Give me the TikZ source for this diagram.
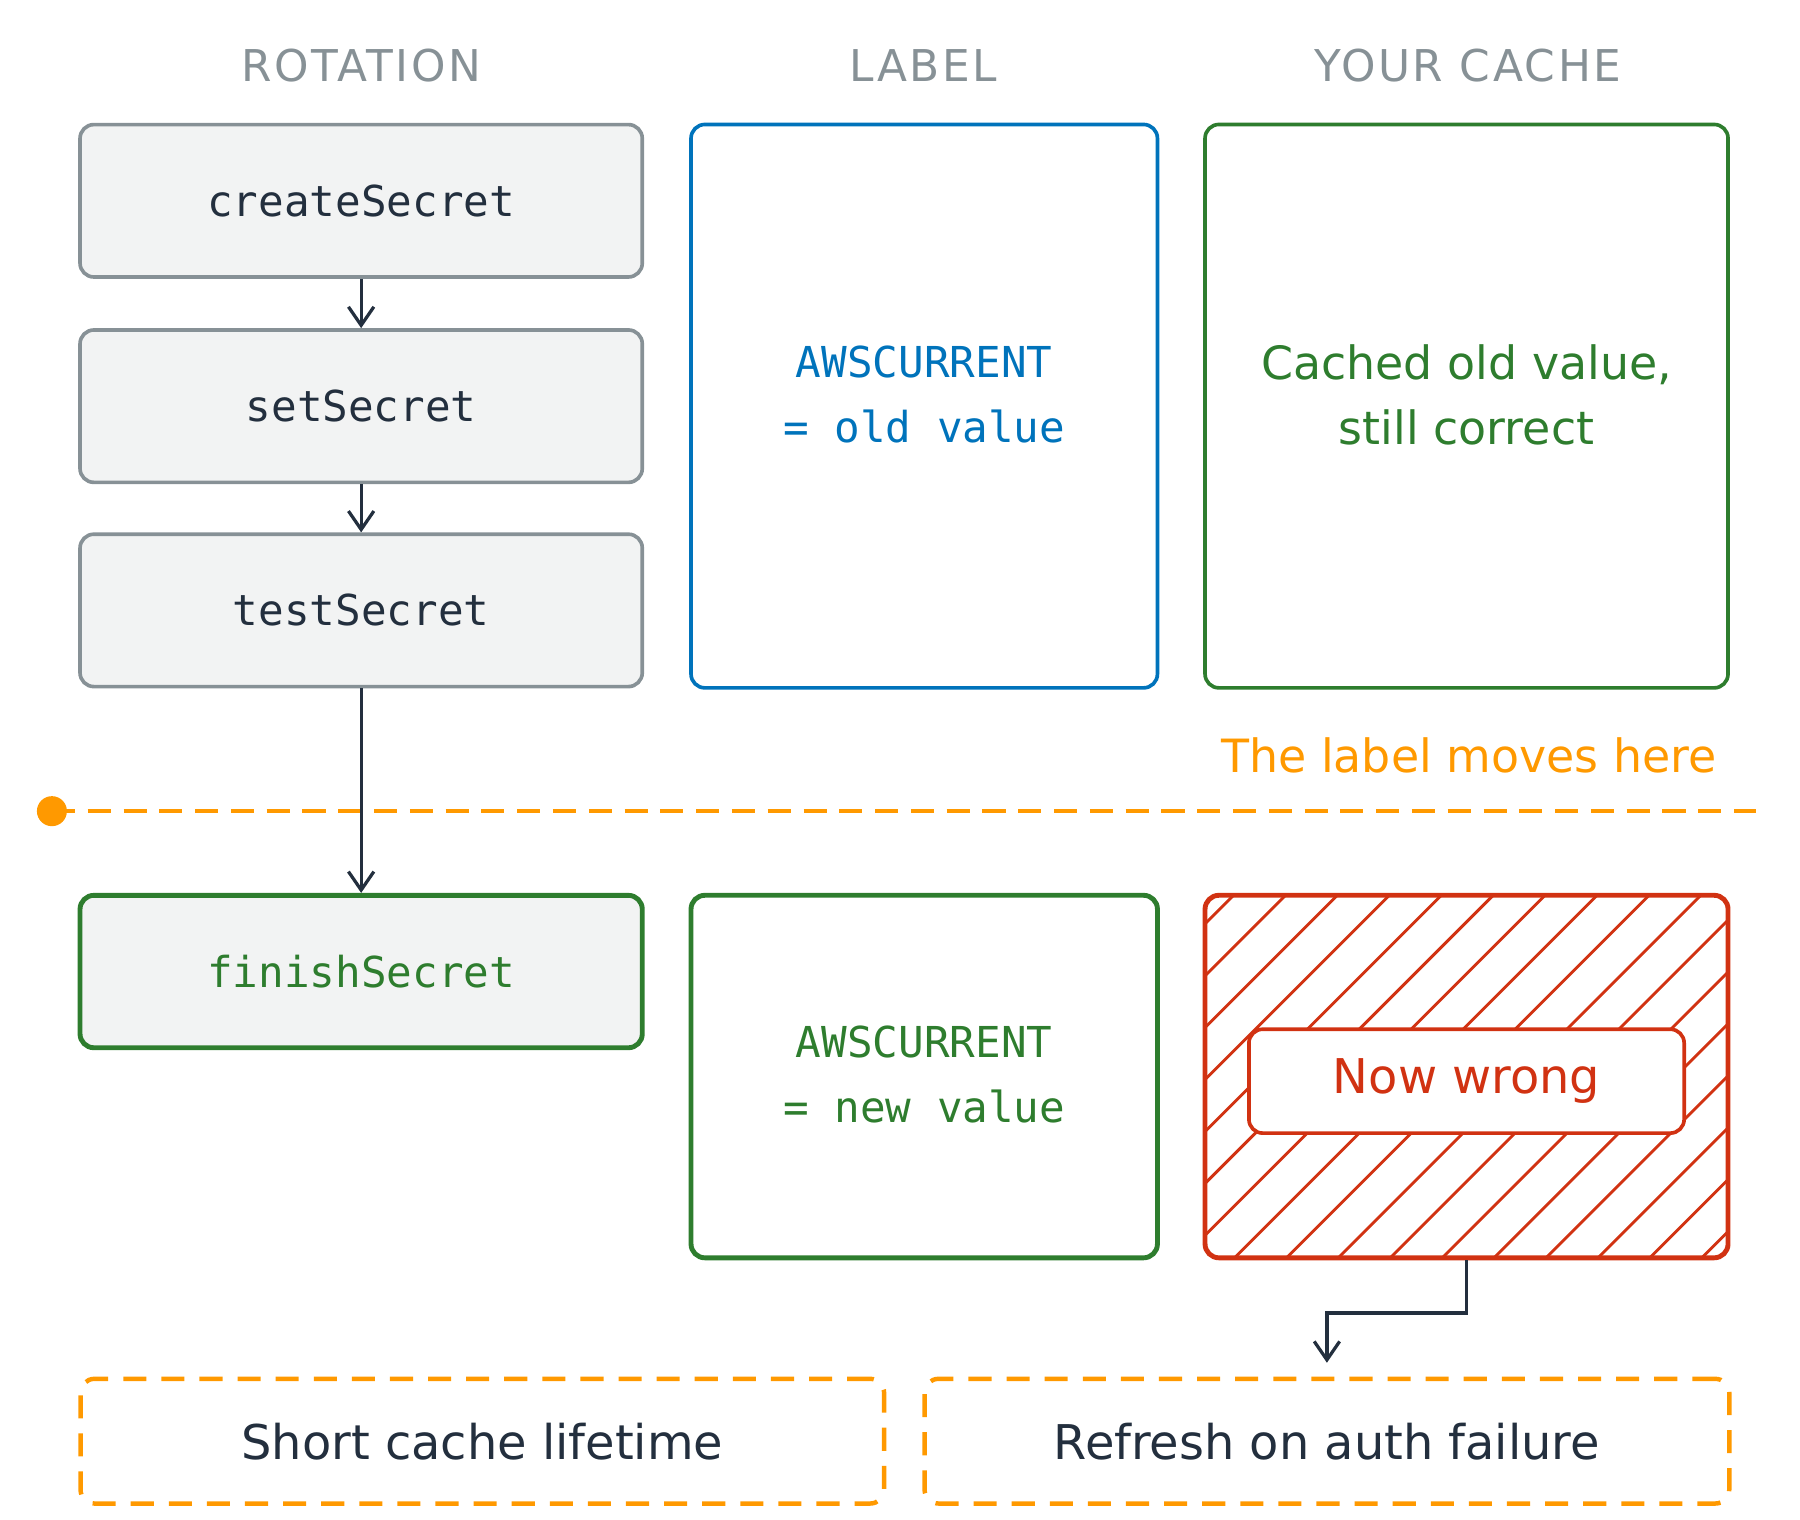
\documentclass[tikz,border=0pt]{standalone}
\usepackage{fontspec}
\setmainfont{DejaVu Sans}
\setmonofont{DejaVu Sans Mono}
\newfontfamily\spacedfont[LetterSpace=6]{DejaVu Sans}
\usetikzlibrary{arrows.meta,positioning}
\definecolor{inkdark}{HTML}{232F3E}
\definecolor{boxgray}{HTML}{879196}
\definecolor{boxfill}{HTML}{F2F3F3}
\definecolor{awsblue}{HTML}{0073BB}
\definecolor{okgreen}{HTML}{2E7D2E}
\definecolor{badred}{HTML}{D13212}
\definecolor{warnorange}{HTML}{FF9900}
\begin{document}
\begin{tikzpicture}[
    x=0.01cm, y=-0.01cm,
    stepbox/.style={rectangle, draw=boxgray, fill=boxfill, line width=0.9pt, rounded corners=0.12cm, minimum width=4.87cm, minimum height=1.32cm, font=\ttfamily\fontsize{10.5}{13}\selectfont, text=inkdark},
    panel/.style={rectangle, line width=0.9pt, rounded corners=0.12cm},
    paneltext/.style={align=center, font=\fontsize{11.3}{16}\selectfont},
    monotext/.style={align=center, font=\ttfamily\fontsize{10.5}{16}\selectfont},
    header/.style={font=\spacedfont\fontsize{10.8}{12}\selectfont, text=boxgray},
    fixbox/.style={rectangle, draw=warnorange, dashed, dash pattern=on 0.2cm off 0.13cm, line width=1.1pt, rounded corners=0.12cm, minimum height=1.08cm, font=\fontsize{11.8}{13}\selectfont, text=inkdark},
    arrow/.style={-{Straight Barb[length=0.16cm,width=0.22cm]}, draw=inkdark, line width=0.8pt}
]
\useasboundingbox (0,0) rectangle (1560,1317);

% column headers
\node[header] (hrot) at (313,57) {ROTATION};
\node[header] (hlab) at (800,57) {LABEL};
\node[header] (hcache) at (1272,57) {YOUR CACHE};

% rotation steps
\node[stepbox] (create) at (313,174) {createSecret};
\node[stepbox] (set) at (313,352) {setSecret};
\node[stepbox] (test) at (313,529) {testSecret};
\node[stepbox, draw=okgreen, line width=1.2pt, text=okgreen] (finish) at (313,842) {finishSecret};

% before the move
\node[panel, draw=awsblue, minimum width=4.04cm, minimum height=4.88cm] (labold) at (801,352) {};
\node[monotext, text=awsblue] (laboldtxt) at (801,342) {AWSCURRENT\\= old value};
\node[panel, draw=okgreen, minimum width=4.53cm, minimum height=4.88cm] (cacheold) at (1271,352) {};
\node[paneltext, text=okgreen] (cacheoldtxt) at (1271,342) {Cached old value,\\still correct};

% the move
\node[text=warnorange, anchor=east, font=\fontsize{11.3}{13}\selectfont] (movetxt) at (1500,655) {The label moves here};
\fill[warnorange] (45,703) circle (0.13cm) coordinate (dot);
\coordinate (lineend) at (1522,703);
\draw[warnorange, line width=1.1pt, dash pattern=on 0.2cm off 0.11cm] (dot) -- (lineend);

% after the move
\node[panel, draw=okgreen, line width=1.2pt, minimum width=4.04cm, minimum height=3.14cm] (labnew) at (801,933) {};
\node[monotext, text=okgreen] (labnewtxt) at (801,931) {AWSCURRENT\\= new value};
\begin{scope}
  \clip[rounded corners=0.12cm] (1045,776) rectangle (1498,1090);
  \foreach \k in {0,...,24}
    \draw[badred, line width=0.7pt] (700+45*\k,1100) -- ++(340,-340);
\end{scope}
\node[panel, draw=badred, line width=1.2pt, minimum width=4.53cm, minimum height=3.14cm] (cachenew) at (1271,933) {};
\node[panel, paneltext, draw=badred, fill=white, minimum width=3.77cm, minimum height=0.9cm, text=badred, font=\fontsize{11.8}{13}\selectfont] (wrong) at (1271,937) {Now wrong};

% fixes
\node[fixbox, minimum width=6.96cm] (short) at (418,1249) {Short cache lifetime};
\node[fixbox, minimum width=6.97cm] (refresh) at (1150,1249) {Refresh on auth failure};

% connectors
\draw[arrow] (create) -- (set);
\draw[arrow] (set) -- (test);
\draw[arrow] (test) -- (finish);
\draw[arrow] (cachenew.south) |- (1150,1138) -- ([yshift=0.12cm]refresh.north);
\end{tikzpicture}
\end{document}
